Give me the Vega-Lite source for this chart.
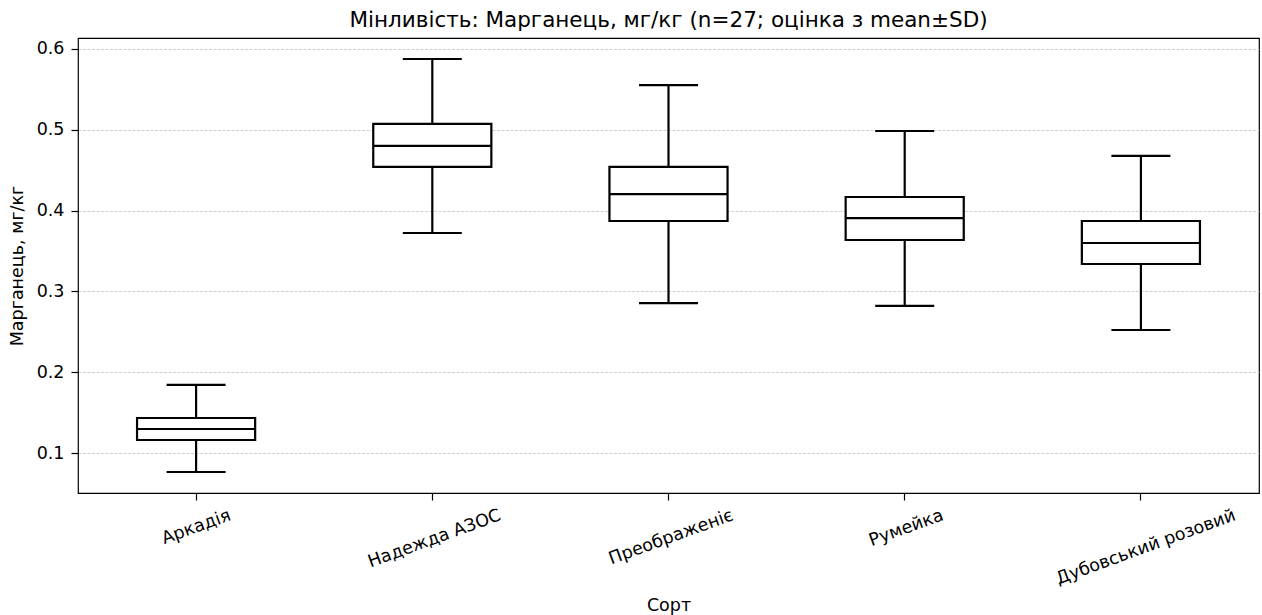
{
  "$schema": "https://vega.github.io/schema/vega-lite/v6.json",
  "width": 1181,
  "height": 455,
  "autosize": {"type": "none"},
  "padding": {"left": 78, "top": 38, "right": 3, "bottom": 122},
  "background": "white",
  "title": {"text": "Мінливість: Марганець, мг/кг (n=27; оцінка з mean±SD)", "font": "DejaVu Sans", "fontSize": 21.5, "fontWeight": "normal", "color": "black", "offset": 7},
  "config": {
    "view": {"stroke": "black", "strokeWidth": 1.2},
    "axis": {"labelFont": "DejaVu Sans", "titleFont": "DejaVu Sans", "labelFontSize": 17.5, "titleFontSize": 17.5, "titleFontWeight": "normal", "labelColor": "black", "titleColor": "black", "tickColor": "black", "tickSize": 7, "tickWidth": 1.2, "domain": false, "labelLimit": 500}
  },
  "data": {"values": [
    {"sort": "Аркадія", "lower": 0.0765, "q1": 0.1161, "median": 0.1297, "q3": 0.1433, "upper": 0.1842},
    {"sort": "Надежда АЗОС", "lower": 0.3723, "q1": 0.454, "median": 0.48, "q3": 0.5072, "upper": 0.5876},
    {"sort": "Преображеніє", "lower": 0.2856, "q1": 0.3871, "median": 0.4205, "q3": 0.454, "upper": 0.5554},
    {"sort": "Румейка", "lower": 0.282, "q1": 0.3636, "median": 0.3908, "q3": 0.4168, "upper": 0.4985},
    {"sort": "Дубовський розовий", "lower": 0.2522, "q1": 0.3339, "median": 0.3599, "q3": 0.3871, "upper": 0.4676}
  ]},
  "encoding": {
    "x": {"field": "sort", "type": "nominal", "sort": null, "title": "Сорт",
      "scale": {"paddingInner": 0, "paddingOuter": 0},
      "axis": {"labelAngle": -20, "labelAlign": "right", "labelBaseline": "top", "labelPadding": 6, "titlePadding": 9,
        "labelOffset": {"condition": [
          {"test": "datum.value == 'Аркадія'", "value": 31},
          {"test": "datum.value == 'Надежда АЗОС'", "value": 65},
          {"test": "datum.value == 'Преображеніє'", "value": 61},
          {"test": "datum.value == 'Румейка'", "value": 35}
        ], "value": 91}}}
  },
  "layer": [
    {"mark": {"type": "rule", "color": "black", "strokeWidth": 2.2},
     "encoding": {"y": {"field": "lower", "type": "quantitative", "title": "Марганець, мг/кг",
        "scale": {"domain": [0.0505, 0.6136], "nice": false, "zero": false},
        "axis": {"values": [0.1, 0.2, 0.3, 0.4, 0.5, 0.6], "format": ".1f", "grid": true, "gridColor": "#c4c4c4", "gridDash": [3, 1.5], "gridWidth": 0.8, "labelPadding": 7, "titlePadding": 10}},
       "y2": {"field": "upper"}}},
    {"mark": {"type": "bar", "fill": "white", "stroke": "black", "strokeWidth": 2.2, "width": {"band": 0.5}, "opacity": 1},
     "encoding": {"y": {"field": "q1", "type": "quantitative"}, "y2": {"field": "q3"}}},
    {"mark": {"type": "tick", "color": "black", "opacity": 1, "thickness": 2.2, "size": 118},
     "encoding": {"y": {"field": "median", "type": "quantitative"}}},
    {"mark": {"type": "tick", "color": "black", "opacity": 1, "thickness": 2.2, "size": 59},
     "encoding": {"y": {"field": "lower", "type": "quantitative"}}},
    {"mark": {"type": "tick", "color": "black", "opacity": 1, "thickness": 2.2, "size": 59},
     "encoding": {"y": {"field": "upper", "type": "quantitative"}}}
  ]
}
